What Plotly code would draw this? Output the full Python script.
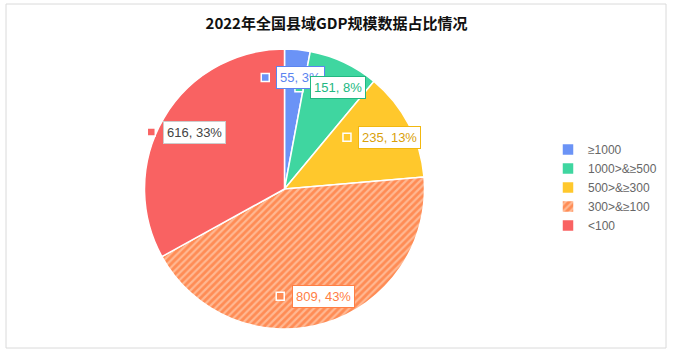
import math
import plotly.graph_objects as go

categories = ["≥1000", "1000>&≥500", "500>&≥300", "300>&≥100", "<100"]
counts = [55, 151, 235, 809, 616]
colors = ["#6B93F6", "#3FD6A0", "#FFC82C", "#FF8C55", "#F96262"]
label_text_colors = ["#5B84F0", "#22B882", "#D9A10A", "#FF7F45", "#444444"]
label_border_colors = ["#5B84F0", "#22B882", "#F2B80F", "#FF7F45", "#CCCCCC"]
title = "2022年全国县域GDP规模数据占比情况"

W, H = 673, 352
cx, cy, R = 284.5, 189.0, 140.0

fig = go.Figure()
fig.add_trace(go.Pie(
    labels=categories, values=counts, sort=False, direction="clockwise", rotation=0,
    textinfo="none", hoverinfo="label+value+percent",
    marker=dict(colors=colors, line=dict(color="white", width=1.5),
                pattern=dict(shape=["", "", "", "/", ""], fgcolor="#FFB892",
                             bgcolor=colors, size=5, solidity=0.45)),
    domain=dict(x=[(cx - R) / W, (cx + R) / W], y=[(H - cy - R) / H, (H - cy + R) / H]),
))

total = sum(counts)
cum = 0
annotations = []
shapes = [dict(type="rect", xref="paper", yref="paper", x0=6 / W, x1=666 / W,
               y0=1 - 348 / H, y1=1 - 4 / H, line=dict(color="#DADADA", width=1))]
for i, v in enumerate(counts):
    mid = (cum + v / 2) / total * 2 * math.pi
    cum += v
    r = 0.8 * R
    px = cx + r * math.sin(mid)
    py = cy - r * math.cos(mid)
    pct = round(v / total * 100)
    txt = f"{v}, {pct}%"
    annotations.append(dict(
        x=px + 6, y=py, xref="x", yref="y", text=txt, showarrow=False,
        font=dict(size=13, color=label_text_colors[i], family="Liberation Sans, Arial"),
        bgcolor="white", bordercolor=label_border_colors[i], borderwidth=1, borderpad=3,
        xanchor="center", yanchor="middle"))
    n = len(txt)
    mxp = px + 6 - (n * 3.6 + 4) - 10
    shapes.append(dict(type="rect", xref="x", yref="y", layer="above",
                       x0=mxp - 4, x1=mxp + 4, y0=py - 4, y1=py + 4,
                       fillcolor=colors[i], line=dict(color="white", width=1.5)))

fig.update_layout(
    width=W, height=H, margin=dict(l=0, r=0, t=0, b=0),
    paper_bgcolor="white", plot_bgcolor="rgba(0,0,0,0)",
    xaxis=dict(range=[0, W], domain=[0, 1], visible=False, fixedrange=True),
    yaxis=dict(range=[H, 0], domain=[0, 1], visible=False, fixedrange=True),
    title=dict(text=f"<b>{title}</b>", x=0.5, xanchor="center", y=1 - 24 / H, yanchor="middle",
               font=dict(size=15, color="#111111", family="Noto Sans CJK SC")),
    legend=dict(x=548 / W, xanchor="left", y=1 - 135 / H, yanchor="top",
                font=dict(size=12, color="#666666", family="Liberation Sans, Arial"),
                itemwidth=30, tracegroupgap=0),
    annotations=annotations,
    shapes=shapes,
    showlegend=True,
)

fig.write_html("out.html")
